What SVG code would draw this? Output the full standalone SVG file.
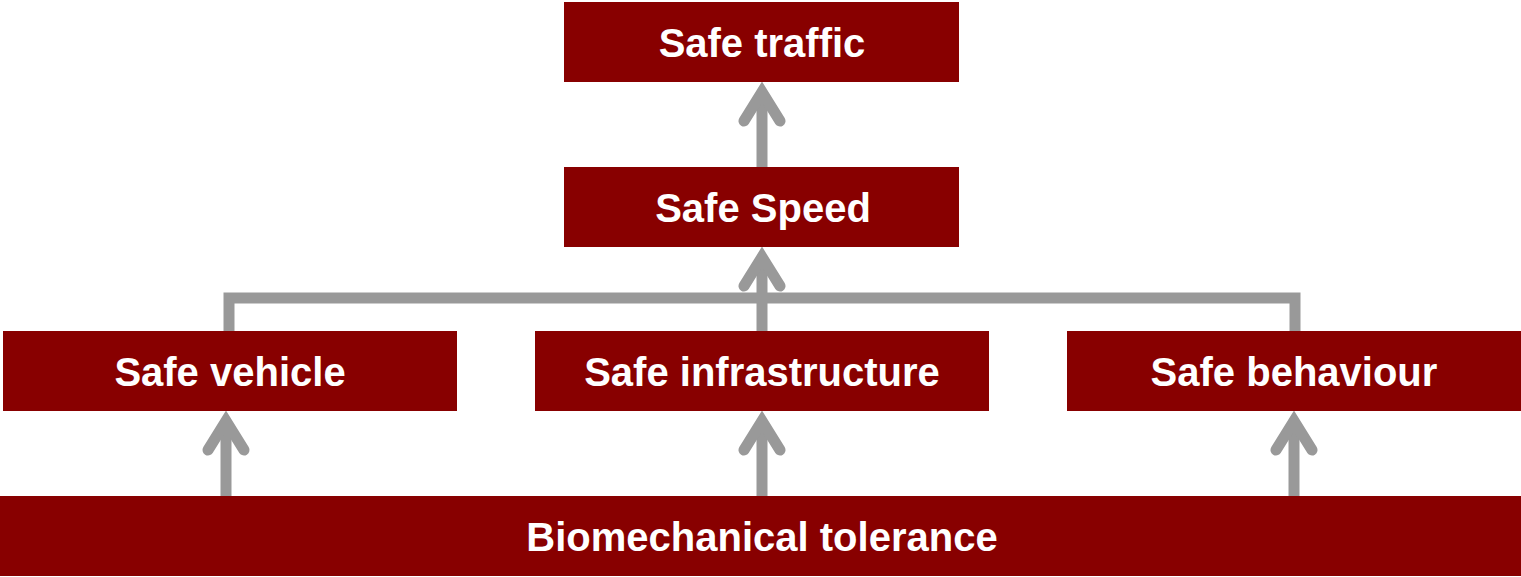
<svg xmlns="http://www.w3.org/2000/svg" width="1521" height="577" viewBox="0 0 1521 577">
<style>
.box{fill:#880000}
.lbl{font-family:"Liberation Sans",Arial,sans-serif;font-weight:bold;font-size:40px;fill:#ffffff;text-anchor:middle}
.ln{fill:none;stroke:#999999;stroke-width:11}
.hd{fill:none;stroke:#999999;stroke-width:11;stroke-linecap:round;stroke-linejoin:miter;stroke-miterlimit:6}
</style>
<rect width="1521" height="577" fill="#ffffff"/>
<g id="connectors">
  <line class="ln" x1="762" y1="167" x2="762" y2="95"/>
  <polyline class="hd" points="744,121 762,92 780,121"/>
  <polyline class="ln" points="229,331 229,298 1295,298 1295,331" stroke-linejoin="miter"/>
  <line class="ln" x1="762" y1="331" x2="762" y2="260"/>
  <polyline class="hd" points="744,286 762,257 780,286"/>
  <line class="ln" x1="226" y1="496" x2="226" y2="425"/>
  <polyline class="hd" points="208,450 226,421 244,450"/>
  <line class="ln" x1="762" y1="496" x2="762" y2="425"/>
  <polyline class="hd" points="744,450 762,421 780,450"/>
  <line class="ln" x1="1294" y1="496" x2="1294" y2="425"/>
  <polyline class="hd" points="1276,450 1294,421 1312,450"/>
</g>
<g id="safe-traffic">
  <rect class="box" x="564" y="2" width="395" height="80"/>
  <text class="lbl" x="762" y="57">Safe traffic</text>
</g>
<g id="safe-speed">
  <rect class="box" x="564" y="167" width="395" height="80"/>
  <text class="lbl" x="763" y="222">Safe Speed</text>
</g>
<g id="safe-vehicle">
  <rect class="box" x="3" y="331" width="454" height="80"/>
  <text class="lbl" x="230" y="386">Safe vehicle</text>
</g>
<g id="safe-infrastructure">
  <rect class="box" x="535" y="331" width="454" height="80"/>
  <text class="lbl" x="762" y="386">Safe infrastructure</text>
</g>
<g id="safe-behaviour">
  <rect class="box" x="1067" y="331" width="454" height="80"/>
  <text class="lbl" x="1294" y="386">Safe behaviour</text>
</g>
<g id="biomechanical-tolerance">
  <rect class="box" x="0" y="496" width="1521" height="80"/>
  <text class="lbl" x="762" y="551">Biomechanical tolerance</text>
</g>
</svg>
